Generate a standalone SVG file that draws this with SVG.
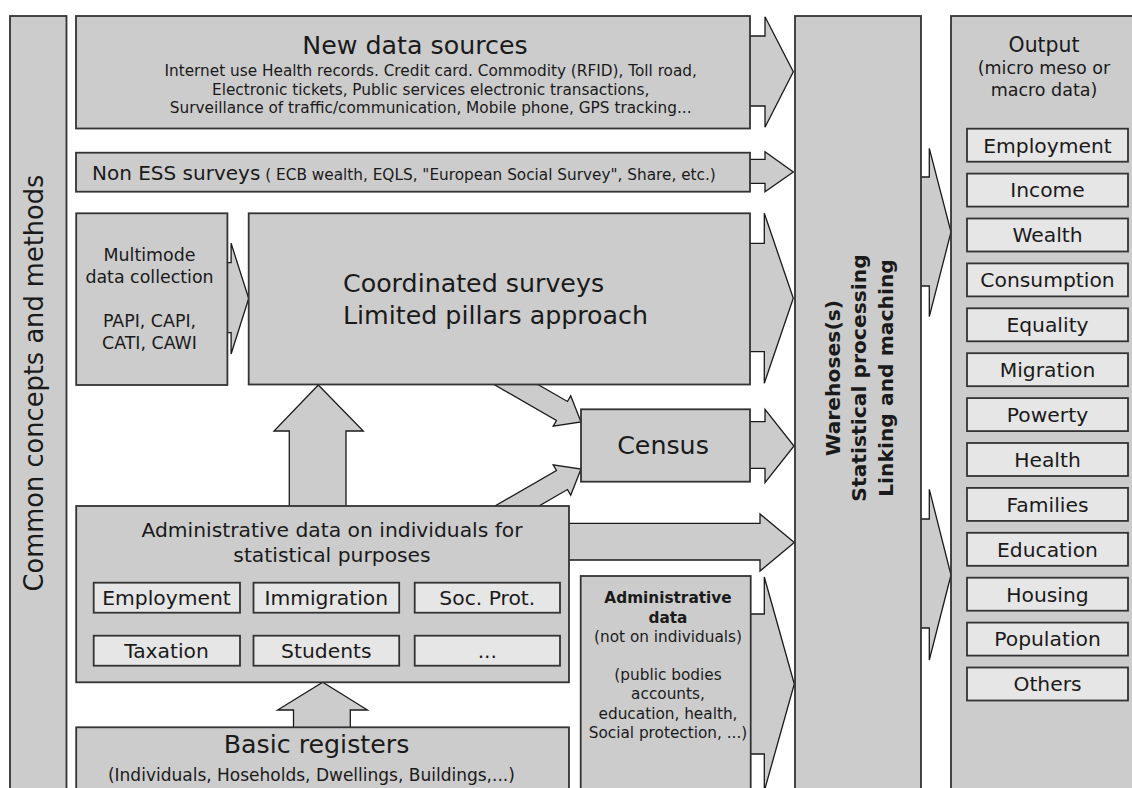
<svg xmlns="http://www.w3.org/2000/svg" width="1132" height="788" viewBox="0 0 1132 788">
  <style>
    .box{fill:#cccccc;stroke:#333333;stroke-width:1.8}
    .item{fill:#e6e6e6;stroke:#333333;stroke-width:1.8}
    .arrow{fill:#cccccc;stroke:#1a1a1a;stroke-width:1.3;stroke-linejoin:miter}
    text{font-family:"DejaVu Sans","Liberation Sans",sans-serif;fill:#1a1a1a}
    .big{font-size:25.3px}
    .mid{font-size:20.3px}
    .sm{font-size:17.4px}
    .xs{font-size:15.3px}
    .c{text-anchor:middle}
    .b{font-weight:bold}
  </style>
  <rect width="1132" height="788" fill="#ffffff"/>

  <!-- connectors (drawn first, boxes sit on top of the stems) -->
  <g id="connectors">
    <!-- into the warehouse -->
    <polygon class="arrow" points="740,36 765,36 765,16.7 793.3,71.7 765,127.3 765,106 740,106"/>
    <polygon class="arrow" points="740,159.3 765,159.3 765,151.7 793.3,172 765,191.7 765,183.3 740,183.3"/>
    <polygon class="arrow" points="740,243.3 764.3,243.3 764.3,213.3 793.3,298.3 764.3,383.3 764.3,351.7 740,351.7"/>
    <polygon class="arrow" points="740,421.7 765,421.7 765,409.3 794,446 765,482.7 765,468.3 740,468.3"/>
    <polygon class="arrow" points="560,523.3 760,523.3 760,514 794.3,542.5 760,571 760,560 560,560"/>
    <polygon class="arrow" points="740,614 764.3,614 764.3,577 794.3,684 764.3,791 764.3,754 740,754"/>
    <!-- multimode to coordinated surveys -->
    <polygon class="arrow" points="220,262.7 231.1,262.7 231.1,243.3 248.7,298.5 231.1,354 231.1,332.7 220,332.7"/>
    <!-- into the census -->
    <polygon class="arrow" transform="translate(581,422) rotate(30)" points="-100,-11 -22,-11 -22,-17.5 0,0 -22,17.5 -22,11 -100,11"/>
    <polygon class="arrow" transform="translate(581,469) rotate(-30)" points="-100,-11 -22,-11 -22,-17.5 0,0 -22,17.5 -22,11 -100,11"/>
    <!-- upward arrows -->
    <polygon class="arrow" points="289.3,515 289.3,431 274,431 318.3,385 363.3,431 346,431 346,515"/>
    <polygon class="arrow" points="293.5,740 293.5,710 277.6,710 322.7,682.3 367.5,710 350.3,710 350.3,740"/>
    <!-- warehouse to output -->
    <polygon class="arrow" points="915,177 929.3,177 929.3,148.3 951,232 929.3,316.7 929.3,286 915,286"/>
    <polygon class="arrow" points="915,519 929.3,519 929.3,489.3 951,575 929.3,660 929.3,628 915,628"/>
  </g>

  <g id="concepts">
    <rect class="box" x="10" y="16" width="56.5" height="790"/>
    <text class="c" font-size="25.7" transform="translate(43,383) rotate(-90)">Common concepts and methods</text>
  </g>

  <g id="new-data-sources">
    <rect class="box" x="76" y="16" width="674" height="112.5"/>
    <text class="big c" x="415" y="54">New data sources</text>
    <text class="xs c" x="430.7" y="76">Internet use Health records. Credit card. Commodity (RFID), Toll road,</text>
    <text class="xs c" x="430.7" y="94.5">Electronic tickets, Public services electronic transactions,</text>
    <text class="xs c" x="430.7" y="113">Surveillance of traffic/communication, Mobile phone, GPS tracking...</text>
  </g>

  <g id="non-ess-surveys">
    <rect class="box" x="76" y="152.7" width="674" height="39"/>
    <text x="92" y="180"><tspan font-size="20px">Non ESS surveys</tspan><tspan font-size="15.3px"> ( ECB wealth, EQLS, "European Social Survey", Share, etc.)</tspan></text>
  </g>

  <g id="multimode">
    <rect class="box" x="76.2" y="213.3" width="151.2" height="171.7"/>
    <text class="sm c" x="149.5" y="261">Multimode</text>
    <text class="sm c" x="149.5" y="282.7">data collection</text>
    <text class="sm c" x="149.5" y="326.7">PAPI, CAPI,</text>
    <text class="sm c" x="149.5" y="349">CATI, CAWI</text>
  </g>

  <g id="coordinated-surveys">
    <rect class="box" x="248.7" y="213.3" width="501.3" height="171.2"/>
    <text class="big" x="343" y="291.7">Coordinated surveys</text>
    <text class="big" x="343" y="324">Limited pillars approach</text>
  </g>

  <g id="census">
    <rect class="box" x="581" y="409.3" width="169" height="72.4"/>
    <text class="big c" x="663" y="454">Census</text>
  </g>

  <g id="admin-individuals">
    <rect class="box" x="76.2" y="506" width="492.8" height="176.3"/>
    <text class="mid c" x="332" y="536.7">Administrative data on individuals for</text>
    <text class="mid c" x="332" y="561.7">statistical purposes</text>
    <rect class="item" x="93.7" y="582.7" width="146.3" height="30"/>
    <text class="mid c" x="166.5" y="604.5">Employment</text>
    <rect class="item" x="253.5" y="582.7" width="145.7" height="30"/>
    <text class="mid c" x="326.3" y="604.5">Immigration</text>
    <rect class="item" x="414.7" y="582.7" width="145.3" height="30"/>
    <text class="mid c" x="487.3" y="604.5">Soc. Prot.</text>
    <rect class="item" x="93.7" y="635.7" width="146.3" height="30"/>
    <text class="mid c" x="166.5" y="658">Taxation</text>
    <rect class="item" x="253.5" y="635.7" width="145.7" height="30"/>
    <text class="mid c" x="326.3" y="658">Students</text>
    <rect class="item" x="414.7" y="635.7" width="145.3" height="30"/>
    <text class="mid c" x="487.3" y="658">...</text>
  </g>

  <g id="admin-other">
    <rect class="box" x="580.7" y="576" width="170" height="230"/>
    <text class="xs c b" x="668" y="603.3">Administrative</text>
    <text class="xs c b" x="668" y="622.7">data</text>
    <text class="xs c" x="668" y="641.7">(not on individuals)</text>
    <text class="xs c" x="668" y="680">(public bodies</text>
    <text class="xs c" x="668" y="699.3">accounts,</text>
    <text class="xs c" x="668" y="719">education, health,</text>
    <text class="xs c" x="668" y="738.3">Social protection, ...)</text>
  </g>

  <g id="basic-registers">
    <rect class="box" x="76.2" y="727.3" width="492.8" height="80"/>
    <text class="big c" x="316.5" y="753.3">Basic registers</text>
    <text class="c" font-size="17px" x="311.4" y="781">(Individuals, Hoseholds, Dwellings, Buildings,...)</text>
  </g>

  <g id="warehouse">
    <rect class="box" x="795" y="16" width="126" height="790"/>
    <text class="mid c b" transform="translate(839.5,378) rotate(-90)">Warehoses(s)</text>
    <text class="mid c b" transform="translate(866,378) rotate(-90)">Statistical processing</text>
    <text class="mid c b" transform="translate(892.5,378) rotate(-90)">Linking and maching</text>
  </g>

  <g id="output">
    <rect class="box" x="951" y="16" width="200" height="790"/>
    <text class="c" font-size="20.4px" x="1044" y="51.7">Output</text>
    <text class="c" font-size="17.5px" x="1044" y="74">(micro meso or</text>
    <text class="c" font-size="17.5px" x="1044" y="96">macro data)</text>
    <g id="output-items">
      <rect class="item" x="967" y="128.7" width="161" height="33"/>
      <text class="mid c" x="1047.5" y="152.5">Employment</text>
      <rect class="item" x="967" y="173.6" width="161" height="33"/>
      <text class="mid c" x="1047.5" y="197.4">Income</text>
      <rect class="item" x="967" y="218.5" width="161" height="33"/>
      <text class="mid c" x="1047.5" y="242.3">Wealth</text>
      <rect class="item" x="967" y="263.4" width="161" height="33"/>
      <text class="mid c" x="1047.5" y="287.2">Consumption</text>
      <rect class="item" x="967" y="308.3" width="161" height="33"/>
      <text class="mid c" x="1047.5" y="332.1">Equality</text>
      <rect class="item" x="967" y="353.2" width="161" height="33"/>
      <text class="mid c" x="1047.5" y="377">Migration</text>
      <rect class="item" x="967" y="398.1" width="161" height="33"/>
      <text class="mid c" x="1047.5" y="421.9">Powerty</text>
      <rect class="item" x="967" y="443" width="161" height="33"/>
      <text class="mid c" x="1047.5" y="466.8">Health</text>
      <rect class="item" x="967" y="487.9" width="161" height="33"/>
      <text class="mid c" x="1047.5" y="511.7">Families</text>
      <rect class="item" x="967" y="532.8" width="161" height="33"/>
      <text class="mid c" x="1047.5" y="556.6">Education</text>
      <rect class="item" x="967" y="577.7" width="161" height="33"/>
      <text class="mid c" x="1047.5" y="601.5">Housing</text>
      <rect class="item" x="967" y="622.6" width="161" height="33"/>
      <text class="mid c" x="1047.5" y="646.4">Population</text>
      <rect class="item" x="967" y="667.5" width="161" height="33"/>
      <text class="mid c" x="1047.5" y="691.3">Others</text>
    </g>
  </g>
</svg>
